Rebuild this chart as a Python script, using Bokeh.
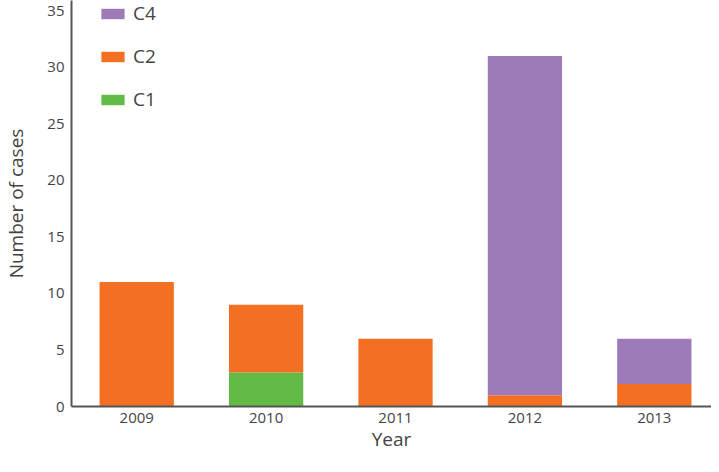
from bokeh.plotting import figure
from bokeh.models import Range1d, FixedTicker, Legend, LegendItem, ColumnDataSource
from bokeh.embed import file_html
from bokeh.resources import INLINE

years = [2009, 2010, 2011, 2012, 2013]
year_labels = ["2009", "2010", "2011", "2012", "2013"]
c1 = [0, 3, 0, 0, 0]
c2 = [11, 6, 6, 1, 2]
c4 = [0, 0, 0, 30, 4]
series = ["C1", "C2", "C4"]
colors = ["#62BA47", "#F37022", "#9F7AB8"]
y_ticks = [0, 5, 10, 15, 20, 25, 30, 35]

FONT = "Open Sans"
TXT = "#444444"

source = ColumnDataSource(dict(year=years, C1=c1, C2=c2, C4=c4))

p = figure(x_range=Range1d(2008.496, 2013.442), y_range=Range1d(0, 35.9),
           width=711, height=456, output_backend="svg", toolbar_location=None,
           min_border_left=65, min_border_right=0, min_border_top=0, min_border_bottom=50)

renderers = p.vbar_stack(series, x="year", width=0.574, color=colors, line_color=None, source=source)

p.xgrid.grid_line_color = None
p.ygrid.grid_line_color = None
p.outline_line_color = None

for ax in (p.xaxis[0], p.yaxis[0]):
    ax.axis_line_color = "#555555"
    ax.axis_line_width = 2
    ax.major_tick_line_color = None
    ax.minor_tick_line_color = None
    ax.major_tick_out = 0
    ax.major_tick_in = 0
    ax.major_label_text_font = FONT
    ax.major_label_text_font_size = "15px"
    ax.major_label_text_color = TXT
    ax.axis_label_text_font = FONT
    ax.axis_label_text_font_style = "normal"
    ax.axis_label_text_font_size = "19px"
    ax.axis_label_text_color = TXT

p.yaxis[0].ticker = FixedTicker(ticks=y_ticks)
p.yaxis[0].major_label_standoff = 7
p.yaxis[0].axis_label = "Number of cases"
p.yaxis[0].axis_label_standoff = 15
p.xaxis[0].ticker = FixedTicker(ticks=years)
p.xaxis[0].major_label_overrides = {y: s for y, s in zip(years, year_labels)}
p.xaxis[0].major_label_standoff = 6
p.xaxis[0].axis_label = "Year"
p.xaxis[0].axis_label_standoff = 0

items = [LegendItem(label=series[i], renderers=[renderers[i]]) for i in (2, 1, 0)]
legend = Legend(items=items, location="top_left", margin=0, padding=0,
                glyph_width=29, glyph_height=13, label_standoff=6, spacing=17,
                label_text_font=FONT, label_text_font_size="19px", label_text_color=TXT,
                background_fill_alpha=0, border_line_color=None)
legend.location = (27, 294)
p.add_layout(legend, "center")

open("out.html", "w").write(file_html(p, INLINE))
